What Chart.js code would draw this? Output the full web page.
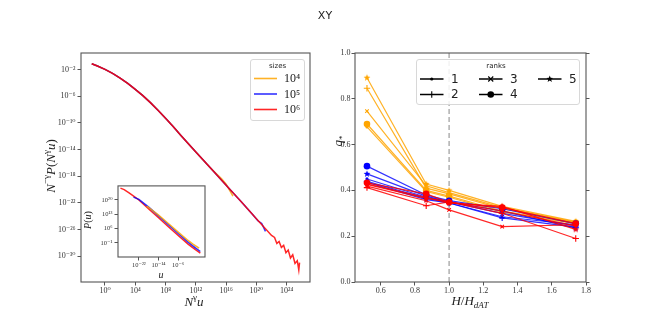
<!DOCTYPE html>
<html><head><meta charset="utf-8">
<script src="https://cdn.jsdelivr.net/npm/chart.js@4.4.1/dist/chart.umd.min.js"></script>
<style>
html,body{margin:0;padding:0;background:#fff;}
#wrap{position:relative;width:650px;height:332px;overflow:hidden;background:#fff;}
canvas{position:absolute;}
.lbl{position:absolute;font-family:'Liberation Serif','DejaVu Serif',serif;color:#222;white-space:nowrap;line-height:1;}
.lbl sup,.lbl sub{font-size:70%;line-height:0;}
.rot{transform:translate(-50%,-50%) rotate(-90deg);}
.ctr{transform:translate(-50%,-50%);}
</style></head><body>
<div id="wrap">
<canvas id="main" width="325" height="332" style="left:0;top:0"></canvas>
<canvas id="inset" width="130" height="100" style="left:80px;top:180px"></canvas>
<canvas id="right" width="325" height="332" style="left:325px;top:0"></canvas>
<div class="lbl ctr" style="left:325px;top:15px;font-family:'DejaVu Sans',sans-serif;font-size:11px;">XY</div>
<div class="lbl rot" style="left:50px;top:166px;font-size:13px;"><i>N</i><sup>−γ</sup><i>P</i>(<i>N</i><sup>γ</sup><i>u</i>)</div>
<div class="lbl ctr" style="left:194px;top:301px;font-size:13px;"><i>N</i><sup>γ</sup><i>u</i></div>
<div class="lbl rot" style="left:88px;top:220px;font-size:10px;"><i>P</i>(<i>u</i>)</div>
<div class="lbl ctr" style="left:161px;top:275px;font-size:10px;"><i>u</i></div>
<div class="lbl rot" style="left:337px;top:141px;font-size:13px;"><i>q</i><sub>*</sub></div>
<div class="lbl ctr" style="left:470px;top:300px;font-size:13px;"><i>H</i>/<i>H</i><sub><i>dAT</i></sub></div>
</div>
<script>
// ---------- DATA ----------
// Main collapse plot (log10 values)
const sizeLabels = ['10⁴', '10⁵', '10⁶'];
const main1e4_logX = [-1.75,-1,0,1,2,3,4,5,6,7,8,9,10,12,14,15.4,16.0,16.9];
const main1e4_logY = [-1.1,-1.45,-1.95,-2.55,-3.25,-4.05,-4.95,-5.9,-6.95,-8.1,-9.3,-10.55,-11.85,-14.35,-16.85,-18.4,-19.2,-21.0];
const main1e5_logX = [-1.75,-1,0,1,2,3,4,5,6,7,8,9,10,12,14,16,18,19.5,20.2,20.7,21.2];
const main1e5_logY = [-1.1,-1.45,-1.95,-2.55,-3.25,-4.05,-4.95,-5.9,-6.95,-8.1,-9.3,-10.55,-11.85,-14.35,-16.85,-19.35,-21.85,-23.75,-24.7,-25.1,-26.3];
const main1e6_logX = [-1.75,-1,0,1,2,3,4,5,6,7,8,9,10,12,14,16,18,20,22,22.4,22.7,23.0,23.3,23.6,23.9,24.2,24.5,24.8,25.1,25.4,25.6,25.7];
const main1e6_logY = [-1.1,-1.45,-1.95,-2.55,-3.25,-4.05,-4.95,-5.9,-6.95,-8.1,-9.3,-10.55,-11.85,-14.35,-16.85,-19.35,-21.85,-24.4,-26.9,-27.2,-28.1,-27.8,-28.7,-28.4,-29.5,-29.1,-30.3,-29.8,-31.1,-30.7,-32.1,-31.0];
const mainXTickExp = [0,4,8,12,16,20,24];
const mainYTickExp = [-2,-6,-10,-14,-18,-22,-26,-30];

// Inset P(u) vs u (log10 values)
const inset1e4_logX = [-18.8,-16,-14,-10,-6,-2,0,2.5];
const inset1e4_logY = [17.0,14.5,12.6,8.5,4.3,0.2,-1.6,-3.6];
const inset1e5_logX = [-24.2,-22,-18,-14,-10,-6,-2,1,3];
const inset1e5_logY = [21.4,20.3,16.5,12.2,7.9,3.6,-0.6,-3.4,-5.2];
const inset1e6_logX = [-29.5,-28,-26,-24,-22,-18,-14,-10,-6,-2,1,3];
const inset1e6_logY = [25.8,25.1,23.5,21.8,20.0,15.6,11.3,6.9,2.6,-1.6,-4.3,-6.0];
const insetXTickExp = [-22,-14,-6];
const insetYTickExp = [-1,6,13,20];

// Right plot: q* vs H/H_dAT, rows = ranks 1..5
const hRatio = [0.52, 0.866, 1.0, 1.31, 1.74];
const rankLabels = ['1','2','3','4','5'];
const q1e4 = [
  [0.677,0.395,0.370,0.305,0.255],
  [0.846,0.410,0.385,0.320,0.260],
  [0.746,0.420,0.390,0.325,0.262],
  [0.690,0.400,0.375,0.310,0.258],
  [0.892,0.428,0.400,0.330,0.265]
];
const q1e5 = [
  [0.450,0.370,0.350,0.300,0.245],
  [0.440,0.365,0.345,0.280,0.240],
  [0.435,0.360,0.345,0.285,0.250],
  [0.506,0.380,0.355,0.320,0.255],
  [0.472,0.375,0.350,0.310,0.235]
];
const q1e6 = [
  [0.426,0.365,0.350,0.310,0.245],
  [0.412,0.333,0.350,0.300,0.190],
  [0.419,0.355,0.315,0.242,0.250],
  [0.433,0.385,0.348,0.325,0.255],
  [0.428,0.370,0.345,0.330,0.230]
];
const rightXTicks = [0.6,0.8,1.0,1.2,1.4,1.6,1.8];
const rightYTicks = [0.0,0.2,0.4,0.6,0.8,1.0];

// ---------- STYLE ----------
const COLORS = ['#FFA500', '#0000FF', '#FF0000'];
const LINE_COLORS = ['rgba(255,165,0,0.85)', 'rgba(0,0,255,0.8)', 'rgba(255,0,0,0.85)'];
const SERIF = "'Liberation Serif','DejaVu Serif',serif";
const SANS = "'DejaVu Sans',sans-serif";
const SUP = {'0':'⁰','1':'¹','2':'²','3':'³','4':'⁴','5':'⁵','6':'⁶','7':'⁷','8':'⁸','9':'⁹','-':'⁻'};
const powLabel = v => '10' + String(Math.round(Math.log10(v))).split('').map(c => SUP[c]).join('');
const toPts = (lx, ly) => lx.map((x, i) => ({x: Math.pow(10, x), y: Math.pow(10, ly[i])}));
const AX = '#555';

const framePlugin = {
  id: 'frame',
  afterDatasetsDraw(chart) {
    const {ctx, chartArea: a} = chart;
    ctx.save(); ctx.strokeStyle = AX; ctx.lineWidth = 1.1;
    ctx.strokeRect(a.left, a.top, a.right - a.left, a.bottom - a.top);
    ctx.restore();
  }
};
const whiteBg = {
  id: 'whiteBg',
  beforeDraw(chart) {
    const {ctx, chartArea: a} = chart;
    ctx.save(); ctx.fillStyle = '#fff';
    ctx.fillRect(a.left, a.top, a.right - a.left, a.bottom - a.top);
    ctx.restore();
  }
};

function drawMarker(ctx, rank, x, y, color, scale) {
  ctx.save();
  ctx.fillStyle = color; ctx.strokeStyle = color; ctx.lineWidth = 1.1;
  const s = scale || 1;
  if (rank === 0) { ctx.beginPath(); ctx.arc(x, y, 1.6 * s, 0, 2 * Math.PI); ctx.fill(); }
  else if (rank === 1) { const r = 3.2 * s; ctx.beginPath(); ctx.moveTo(x - r, y); ctx.lineTo(x + r, y); ctx.moveTo(x, y - r); ctx.lineTo(x, y + r); ctx.stroke(); }
  else if (rank === 2) { const r = 2.5 * s; ctx.beginPath(); ctx.moveTo(x - r, y - r); ctx.lineTo(x + r, y + r); ctx.moveTo(x - r, y + r); ctx.lineTo(x + r, y - r); ctx.stroke(); }
  else if (rank === 3) { ctx.beginPath(); ctx.arc(x, y, 3.3 * s, 0, 2 * Math.PI); ctx.fill(); }
  else { starPath(ctx, x, y, 3.6 * s); ctx.fill(); }
  ctx.restore();
}
function starPath(g, cx, cy, r) {
  g.beginPath();
  for (let i = 0; i < 10; i++) {
    const rad = i % 2 ? r * 0.42 : r;
    const a = -Math.PI / 2 + i * Math.PI / 5;
    const x = cx + rad * Math.cos(a), y = cy + rad * Math.sin(a);
    i ? g.lineTo(x, y) : g.moveTo(x, y);
  }
  g.closePath();
}
function starImg(color, r) {
  const c = document.createElement('canvas');
  const s = Math.ceil(2 * r + 2); c.width = c.height = s;
  const g = c.getContext('2d'); g.fillStyle = color;
  starPath(g, s / 2, s / 2, r); g.fill();
  return c;
}
function legendBox(ctx, x0, y0, x1, y1) {
  ctx.save();
  ctx.fillStyle = 'rgba(255,255,255,0.85)'; ctx.strokeStyle = '#d8d8d8'; ctx.lineWidth = 1;
  const r = 2.5;
  ctx.beginPath();
  ctx.moveTo(x0 + r, y0); ctx.lineTo(x1 - r, y0); ctx.quadraticCurveTo(x1, y0, x1, y0 + r);
  ctx.lineTo(x1, y1 - r); ctx.quadraticCurveTo(x1, y1, x1 - r, y1);
  ctx.lineTo(x0 + r, y1); ctx.quadraticCurveTo(x0, y1, x0, y1 - r);
  ctx.lineTo(x0, y0 + r); ctx.quadraticCurveTo(x0, y0, x0 + r, y0);
  ctx.closePath(); ctx.fill(); ctx.stroke();
  ctx.restore();
}

const sizesLegend = {
  id: 'sizesLegend',
  afterDraw(chart) {
    const ctx = chart.ctx;
    legendBox(ctx, 250.5, 59.5, 304.5, 120.5);
    ctx.save();
    ctx.fillStyle = '#222'; ctx.textAlign = 'center'; ctx.textBaseline = 'middle';
    ctx.font = '7px ' + SANS; ctx.fillText('sizes', 277.5, 66);
    const rows = [78.5, 94, 109.5];
    ctx.textAlign = 'left'; ctx.font = '12px ' + SERIF;
    sizeLabels.forEach((lab, i) => {
      ctx.strokeStyle = LINE_COLORS[i]; ctx.lineWidth = 1.6;
      ctx.beginPath(); ctx.moveTo(254, rows[i]); ctx.lineTo(277, rows[i]); ctx.stroke();
      ctx.fillStyle = '#222'; ctx.fillText(lab, 284, rows[i] + 0.5);
    });
    ctx.restore();
  }
};

const ranksLegend = {
  id: 'ranksLegend',
  afterDraw(chart) {
    const ctx = chart.ctx;
    legendBox(ctx, 91.5, 59.5, 254.5, 104.5);
    ctx.save();
    ctx.fillStyle = '#222'; ctx.textAlign = 'center'; ctx.textBaseline = 'middle';
    ctx.font = '7px ' + SANS; ctx.fillText('ranks', 171, 66);
    const pos = [[95, 79], [95, 94.5], [154, 79], [154, 94.5], [213, 79]];
    ctx.textAlign = 'left'; ctx.font = '12px ' + SANS;
    rankLabels.forEach((lab, i) => {
      const [x, y] = pos[i];
      ctx.strokeStyle = '#000'; ctx.lineWidth = 1.5;
      ctx.beginPath(); ctx.moveTo(x, y); ctx.lineTo(x + 23.5, y); ctx.stroke();
      drawMarker(ctx, i, x + 11.75, y, '#000', 1);
      ctx.fillStyle = '#222'; ctx.fillText(lab, x + 31, y + 0.5);
    });
    ctx.restore();
  }
};

function logAxis(min, max, exps, pos, fontSize, fixed, pad) {
  return {
    type: 'logarithmic', position: pos, min: Math.pow(10, min), max: Math.pow(10, max),
    afterBuildTicks: s => { s.ticks = exps.map(e => ({value: Math.pow(10, e), major: true})); },
    afterFit: s => { if (pos === 'left') s.width = fixed; else s.height = fixed; },
    ticks: {callback: v => powLabel(v), font: {family: SERIF, size: fontSize}, color: '#333', padding: pad, autoSkip: false, maxRotation: 0, minRotation: 0},
    grid: {drawOnChartArea: false, drawTicks: true, tickLength: 3.5, color: AX, lineWidth: 1},
    border: {display: false}
  };
}

Chart.defaults.animation = false;

// ---------- MAIN (left) ----------
const mainSets = [
  [main1e4_logX, main1e4_logY], [main1e5_logX, main1e5_logY], [main1e6_logX, main1e6_logY]
].map((d, i) => ({
  data: toPts(d[0], d[1]), borderColor: LINE_COLORS[i], borderWidth: 1.5,
  pointRadius: 0, tension: 0, order: 3 - i
}));
new Chart(document.getElementById('main'), {
  type: 'line',
  data: {datasets: mainSets},
  options: {
    responsive: false, devicePixelRatio: 1, animation: false,
    layout: {padding: {top: 53, right: 15, left: 0, bottom: 0}},
    plugins: {legend: {display: false}, tooltip: {enabled: false}},
    scales: {
      x: logAxis(-3.17, 27.08, mainXTickExp, 'bottom', 8, 50, 1),
      y: logAxis(-33.9, 0.51, mainYTickExp, 'left', 8, 81, 2)
    }
  },
  plugins: [framePlugin, sizesLegend]
});

// ---------- INSET ----------
const insetSets = [
  [inset1e4_logX, inset1e4_logY], [inset1e5_logX, inset1e5_logY], [inset1e6_logX, inset1e6_logY]
].map((d, i) => ({
  data: toPts(d[0], d[1]), borderColor: LINE_COLORS[i], borderWidth: 1.5,
  pointRadius: 0, tension: 0, order: i === 0 ? 1 : (i === 1 ? 2 : 3)
}));
new Chart(document.getElementById('inset'), {
  type: 'line',
  data: {datasets: insetSets},
  options: {
    responsive: false, devicePixelRatio: 1, animation: false,
    layout: {padding: {top: 3, right: 5, left: 0, bottom: 0}},
    plugins: {legend: {display: false}, tooltip: {enabled: false}},
    scales: {
      x: logAxis(-30.5, 4.9, insetXTickExp, 'bottom', 6.5, 23, 1),
      y: logAxis(-7.9, 26.9, insetYTickExp, 'left', 6.5, 38, 2)
    }
  },
  plugins: [whiteBg, framePlugin]
});

// ---------- RIGHT ----------
const rankStyles = ['circle', 'cross', 'crossRot', 'circle', null];
const rankRadius = [1.6, 3.2, 2.5, 3.3, 3.6];
const rankBorder = [0, 1.1, 1.1, 0, 0];
const rightSets = [];
[q1e4, q1e5, q1e6].forEach((arr, si) => {
  arr.forEach((vals, ri) => {
    rightSets.push({
      data: hRatio.map((h, k) => ({x: h, y: vals[k]})),
      borderColor: LINE_COLORS[si], borderWidth: 1.2,
      pointStyle: ri === 4 ? starImg(COLORS[si], 3.6) : rankStyles[ri],
      pointRadius: rankRadius[ri], pointBorderWidth: rankBorder[ri],
      pointBackgroundColor: COLORS[si], pointBorderColor: COLORS[si],
      tension: 0, order: 3 - si
    });
  });
});
rightSets.push({
  data: [{x: 1.0, y: 0}, {x: 1.0, y: 1}], borderColor: '#aaaaaa', borderDash: [5, 3],
  borderWidth: 1.4, pointRadius: 0, order: 10
});
function linTicks(list) { return s => { s.ticks = list.map(v => ({value: v})); }; }
new Chart(document.getElementById('right'), {
  type: 'line',
  data: {datasets: rightSets},
  options: {
    responsive: false, devicePixelRatio: 1, animation: false,
    layout: {padding: {top: 53, right: 0, left: 0, bottom: 0}},
    plugins: {legend: {display: false}, tooltip: {enabled: false}},
    scales: {
      x: {
        type: 'linear', position: 'bottom', min: 0.45, max: 1.8,
        afterBuildTicks: linTicks(rightXTicks), afterFit: s => { s.height = 50; },
        ticks: {callback: v => v.toFixed(1), font: {family: SERIF, size: 8}, color: '#333', padding: 1, autoSkip: false, maxRotation: 0},
        grid: {drawOnChartArea: false, tickLength: 3.5, color: AX}, border: {display: false}
      },
      y: {
        type: 'linear', position: 'left', min: 0, max: 1,
        afterBuildTicks: linTicks(rightYTicks), afterFit: s => { s.width = 30; },
        ticks: {callback: v => v.toFixed(1), font: {family: SERIF, size: 8}, color: '#333', padding: 1, autoSkip: false},
        grid: {drawOnChartArea: false, tickLength: 3.5, color: AX}, border: {display: false}
      },
      y2: {
        type: 'linear', position: 'right', min: 0, max: 1,
        afterBuildTicks: linTicks(rightYTicks), afterFit: s => { s.width = 64; },
        ticks: {display: false},
        grid: {drawOnChartArea: false, tickLength: 3.5, color: AX}, border: {display: false}
      }
    }
  },
  plugins: [framePlugin, ranksLegend]
});
</script>
</body></html>
